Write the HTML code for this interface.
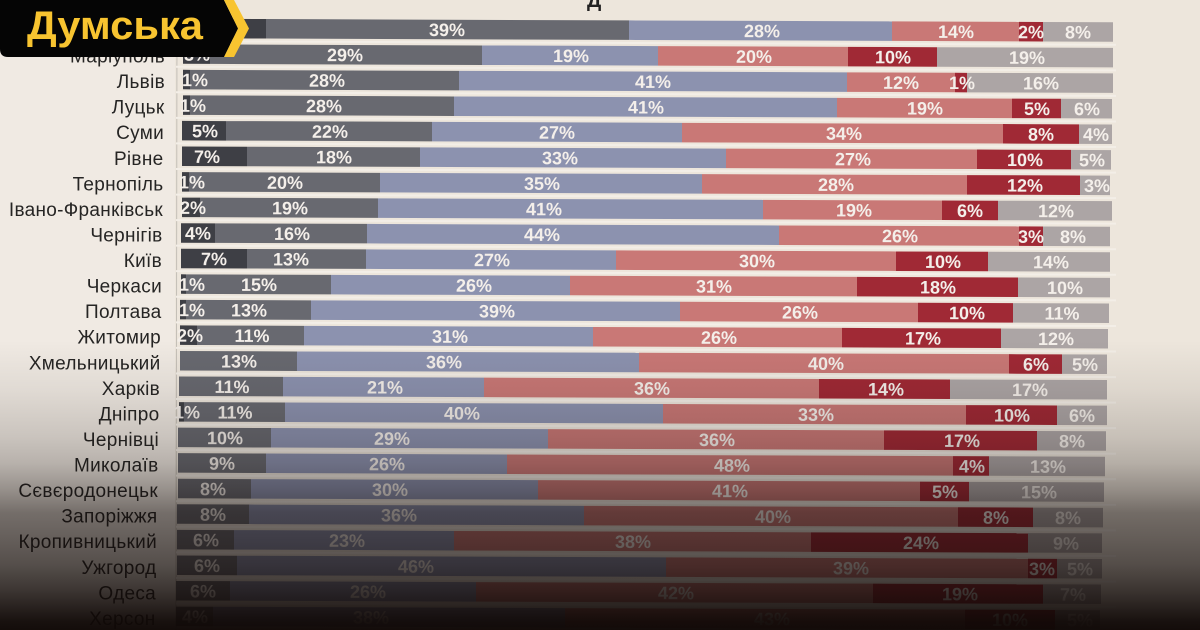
<!DOCTYPE html>
<html><head><meta charset="utf-8"><style>
html,body{margin:0;padding:0;background:#ede6dc;}
svg{display:block;}
.p{font-family:"Liberation Sans",sans-serif;font-weight:bold;font-size:18px;fill:#f4efea;text-anchor:middle;}
.c{font-family:"Liberation Sans","Noto Sans CJK SC",sans-serif;font-size:19px;fill:#262524;text-anchor:end;letter-spacing:0.3px;}
</style></head><body>
<svg width="1200" height="630" viewBox="0 0 1200 630" xmlns="http://www.w3.org/2000/svg">
<defs>
<linearGradient id="sh" x1="0" y1="0" x2="0" y2="1">
<stop offset="0" stop-color="rgb(15,8,6)" stop-opacity="0"/>
<stop offset="0.540" stop-color="rgb(15,8,6)" stop-opacity="0"/>
<stop offset="0.619" stop-color="rgb(15,8,6)" stop-opacity="0.07"/>
<stop offset="0.694" stop-color="rgb(15,8,6)" stop-opacity="0.17"/>
<stop offset="0.735" stop-color="rgb(15,8,6)" stop-opacity="0.25"/>
<stop offset="0.778" stop-color="rgb(15,8,6)" stop-opacity="0.40"/>
<stop offset="0.814" stop-color="rgb(15,8,6)" stop-opacity="0.55"/>
<stop offset="0.857" stop-color="rgb(15,8,6)" stop-opacity="0.62"/>
<stop offset="0.897" stop-color="rgb(15,8,6)" stop-opacity="0.69"/>
<stop offset="0.937" stop-color="rgb(15,8,6)" stop-opacity="0.80"/>
<stop offset="0.968" stop-color="rgb(15,8,6)" stop-opacity="0.90"/>
<stop offset="0.987" stop-color="rgb(15,8,6)" stop-opacity="0.96"/>
<stop offset="1" stop-color="rgb(15,8,6)" stop-opacity="0.98"/>
</linearGradient>
</defs>
<rect x="0" y="0" width="1200" height="630" fill="#ede6dc"/>
<rect x="0" y="0" width="175" height="630" fill="#f0eae3"/>
<text x="587" y="7" font-family="Liberation Sans,sans-serif" font-weight="bold" font-size="20" fill="#222">Д</text>
<line x1="177" y1="14" x2="176" y2="630" stroke="#c4bfb7" stroke-width="1"/>

<g transform="skewY(0.22)">
<g fill="#f3eee7">
<rect x="176" y="39.5" width="940" height="2"/><rect x="176" y="65.1" width="940" height="2"/><rect x="176" y="90.6" width="940" height="2"/><rect x="176" y="116.2" width="940" height="2"/><rect x="176" y="141.7" width="940" height="2"/><rect x="176" y="167.3" width="940" height="2"/><rect x="176" y="192.9" width="940" height="2"/><rect x="176" y="218.4" width="940" height="2"/><rect x="176" y="244" width="940" height="2"/><rect x="176" y="269.5" width="940" height="2"/><rect x="176" y="295.1" width="940" height="2"/><rect x="176" y="320.7" width="940" height="2"/><rect x="176" y="346.2" width="940" height="2"/><rect x="176" y="371.8" width="940" height="2"/><rect x="176" y="397.3" width="940" height="2"/><rect x="176" y="422.9" width="940" height="2"/><rect x="176" y="448.5" width="940" height="2"/><rect x="176" y="474" width="940" height="2"/><rect x="176" y="499.6" width="940" height="2"/><rect x="176" y="525.1" width="940" height="2"/><rect x="176" y="550.7" width="940" height="2"/><rect x="176" y="576.3" width="940" height="2"/><rect x="176" y="601.8" width="940" height="2"/>
</g>
<!-- Row 0 -->
<rect x="182" y="18" width="84" height="19.5" fill="#3e3f45"/><rect x="266" y="18" width="363" height="19.5" fill="#686970"/><rect x="629" y="18" width="263" height="19.5" fill="#8c92af"/><rect x="892" y="18" width="127" height="19.5" fill="#c97876"/><rect x="1019" y="18" width="24" height="19.5" fill="#a02935"/><rect x="1043" y="18" width="70" height="19.5" fill="#aca5a5"/>
<text class="p" x="447" y="34.3">39%</text><text class="p" x="762" y="34.3">28%</text><text class="p" x="956" y="34.3">14%</text><text class="p" x="1031" y="34.3">2%</text><text class="p" x="1078" y="34.3">8%</text>
<!-- Row 1 -->
<rect x="183" y="43.6" width="27" height="19.5" fill="#3e3f45"/><rect x="210" y="43.6" width="272" height="19.5" fill="#686970"/><rect x="482" y="43.6" width="176" height="19.5" fill="#8c92af"/><rect x="658" y="43.6" width="190" height="19.5" fill="#c97876"/><rect x="848" y="43.6" width="89" height="19.5" fill="#a02935"/><rect x="937" y="43.6" width="176" height="19.5" fill="#aca5a5"/>
<text class="p" x="197" y="59.9">3%</text><text class="p" x="345" y="59.9">29%</text><text class="p" x="571" y="59.9">19%</text><text class="p" x="754" y="59.9">20%</text><text class="p" x="893" y="59.9">10%</text><text class="p" x="1027" y="59.9">19%</text>
<!-- Row 2 -->
<rect x="183" y="69.1" width="7" height="19.5" fill="#3e3f45"/><rect x="190" y="69.1" width="269" height="19.5" fill="#686970"/><rect x="459" y="69.1" width="388" height="19.5" fill="#8c92af"/><rect x="847" y="69.1" width="108" height="19.5" fill="#c97876"/><rect x="955" y="69.1" width="12" height="19.5" fill="#a02935"/><rect x="967" y="69.1" width="146" height="19.5" fill="#aca5a5"/>
<text class="p" x="195" y="85.4">1%</text><text class="p" x="327" y="85.4">28%</text><text class="p" x="653" y="85.4">41%</text><text class="p" x="901" y="85.4">12%</text><text class="p" x="962" y="85.4">1%</text><text class="p" x="1041" y="85.4">16%</text>
<!-- Row 3 -->
<rect x="183" y="94.7" width="7" height="19.5" fill="#3e3f45"/><rect x="190" y="94.7" width="264" height="19.5" fill="#686970"/><rect x="454" y="94.7" width="383" height="19.5" fill="#8c92af"/><rect x="837" y="94.7" width="175" height="19.5" fill="#c97876"/><rect x="1012" y="94.7" width="49" height="19.5" fill="#a02935"/><rect x="1061" y="94.7" width="51" height="19.5" fill="#aca5a5"/>
<text class="p" x="193" y="111">1%</text><text class="p" x="324" y="111">28%</text><text class="p" x="646" y="111">41%</text><text class="p" x="925" y="111">19%</text><text class="p" x="1037" y="111">5%</text><text class="p" x="1087" y="111">6%</text>
<!-- Row 4 -->
<rect x="182" y="120.2" width="44" height="19.5" fill="#3e3f45"/><rect x="226" y="120.2" width="206" height="19.5" fill="#686970"/><rect x="432" y="120.2" width="250" height="19.5" fill="#8c92af"/><rect x="682" y="120.2" width="321" height="19.5" fill="#c97876"/><rect x="1003" y="120.2" width="76" height="19.5" fill="#a02935"/><rect x="1079" y="120.2" width="33" height="19.5" fill="#aca5a5"/>
<text class="p" x="205" y="136.5">5%</text><text class="p" x="330" y="136.5">22%</text><text class="p" x="557" y="136.5">27%</text><text class="p" x="844" y="136.5">34%</text><text class="p" x="1041" y="136.5">8%</text><text class="p" x="1096" y="136.5">4%</text>
<!-- Row 5 -->
<rect x="182" y="145.8" width="65" height="19.5" fill="#3e3f45"/><rect x="247" y="145.8" width="173" height="19.5" fill="#686970"/><rect x="420" y="145.8" width="306" height="19.5" fill="#8c92af"/><rect x="726" y="145.8" width="251" height="19.5" fill="#c97876"/><rect x="977" y="145.8" width="94" height="19.5" fill="#a02935"/><rect x="1071" y="145.8" width="40" height="19.5" fill="#aca5a5"/>
<text class="p" x="207" y="162.1">7%</text><text class="p" x="334" y="162.1">18%</text><text class="p" x="560" y="162.1">33%</text><text class="p" x="853" y="162.1">27%</text><text class="p" x="1025" y="162.1">10%</text><text class="p" x="1092" y="162.1">5%</text>
<!-- Row 6 -->
<rect x="182" y="171.4" width="7" height="19.5" fill="#3e3f45"/><rect x="189" y="171.4" width="191" height="19.5" fill="#686970"/><rect x="380" y="171.4" width="322" height="19.5" fill="#8c92af"/><rect x="702" y="171.4" width="265" height="19.5" fill="#c97876"/><rect x="967" y="171.4" width="113" height="19.5" fill="#a02935"/><rect x="1080" y="171.4" width="30" height="19.5" fill="#aca5a5"/>
<text class="p" x="192" y="187.7">1%</text><text class="p" x="285" y="187.7">20%</text><text class="p" x="542" y="187.7">35%</text><text class="p" x="836" y="187.7">28%</text><text class="p" x="1025" y="187.7">12%</text><text class="p" x="1097" y="187.7">3%</text>
<!-- Row 7 -->
<rect x="182" y="196.9" width="18" height="19.5" fill="#3e3f45"/><rect x="200" y="196.9" width="178" height="19.5" fill="#686970"/><rect x="378" y="196.9" width="385" height="19.5" fill="#8c92af"/><rect x="763" y="196.9" width="179" height="19.5" fill="#c97876"/><rect x="942" y="196.9" width="56" height="19.5" fill="#a02935"/><rect x="998" y="196.9" width="114" height="19.5" fill="#aca5a5"/>
<text class="p" x="193" y="213.2">2%</text><text class="p" x="290" y="213.2">19%</text><text class="p" x="544" y="213.2">41%</text><text class="p" x="854" y="213.2">19%</text><text class="p" x="970" y="213.2">6%</text><text class="p" x="1056" y="213.2">12%</text>
<!-- Row 8 -->
<rect x="181" y="222.5" width="34" height="19.5" fill="#3e3f45"/><rect x="215" y="222.5" width="152" height="19.5" fill="#686970"/><rect x="367" y="222.5" width="412" height="19.5" fill="#8c92af"/><rect x="779" y="222.5" width="240" height="19.5" fill="#c97876"/><rect x="1019" y="222.5" width="24" height="19.5" fill="#a02935"/><rect x="1043" y="222.5" width="67" height="19.5" fill="#aca5a5"/>
<text class="p" x="198" y="238.8">4%</text><text class="p" x="292" y="238.8">16%</text><text class="p" x="542" y="238.8">44%</text><text class="p" x="900" y="238.8">26%</text><text class="p" x="1031" y="238.8">3%</text><text class="p" x="1073" y="238.8">8%</text>
<!-- Row 9 -->
<rect x="181" y="248" width="66" height="19.5" fill="#3e3f45"/><rect x="247" y="248" width="119" height="19.5" fill="#686970"/><rect x="366" y="248" width="250" height="19.5" fill="#8c92af"/><rect x="616" y="248" width="280" height="19.5" fill="#c97876"/><rect x="896" y="248" width="92" height="19.5" fill="#a02935"/><rect x="988" y="248" width="122" height="19.5" fill="#aca5a5"/>
<text class="p" x="214" y="264.3">7%</text><text class="p" x="291" y="264.3">13%</text><text class="p" x="492" y="264.3">27%</text><text class="p" x="757" y="264.3">30%</text><text class="p" x="943" y="264.3">10%</text><text class="p" x="1051" y="264.3">14%</text>
<!-- Row 10 -->
<rect x="181" y="273.6" width="5" height="19.5" fill="#3e3f45"/><rect x="186" y="273.6" width="145" height="19.5" fill="#686970"/><rect x="331" y="273.6" width="239" height="19.5" fill="#8c92af"/><rect x="570" y="273.6" width="287" height="19.5" fill="#c97876"/><rect x="857" y="273.6" width="161" height="19.5" fill="#a02935"/><rect x="1018" y="273.6" width="92" height="19.5" fill="#aca5a5"/>
<text class="p" x="192" y="289.9">1%</text><text class="p" x="259" y="289.9">15%</text><text class="p" x="474" y="289.9">26%</text><text class="p" x="714" y="289.9">31%</text><text class="p" x="938" y="289.9">18%</text><text class="p" x="1065" y="289.9">10%</text>
<!-- Row 11 -->
<rect x="180" y="299.2" width="6" height="19.5" fill="#3e3f45"/><rect x="186" y="299.2" width="125" height="19.5" fill="#686970"/><rect x="311" y="299.2" width="369" height="19.5" fill="#8c92af"/><rect x="680" y="299.2" width="238" height="19.5" fill="#c97876"/><rect x="918" y="299.2" width="95" height="19.5" fill="#a02935"/><rect x="1013" y="299.2" width="96" height="19.5" fill="#aca5a5"/>
<text class="p" x="192" y="315.5">1%</text><text class="p" x="249" y="315.5">13%</text><text class="p" x="497" y="315.5">39%</text><text class="p" x="800" y="315.5">26%</text><text class="p" x="967" y="315.5">10%</text><text class="p" x="1062" y="315.5">11%</text>
<!-- Row 12 -->
<rect x="180" y="324.7" width="17" height="19.5" fill="#3e3f45"/><rect x="197" y="324.7" width="107" height="19.5" fill="#686970"/><rect x="304" y="324.7" width="289" height="19.5" fill="#8c92af"/><rect x="593" y="324.7" width="249" height="19.5" fill="#c97876"/><rect x="842" y="324.7" width="159" height="19.5" fill="#a02935"/><rect x="1001" y="324.7" width="107" height="19.5" fill="#aca5a5"/>
<text class="p" x="190" y="341">2%</text><text class="p" x="252" y="341">11%</text><text class="p" x="450" y="341">31%</text><text class="p" x="719" y="341">26%</text><text class="p" x="923" y="341">17%</text><text class="p" x="1056" y="341">12%</text>
<!-- Row 13 -->
<rect x="180" y="350.3" width="117" height="19.5" fill="#686970"/><rect x="297" y="350.3" width="342" height="19.5" fill="#8c92af"/><rect x="639" y="350.3" width="370" height="19.5" fill="#c97876"/><rect x="1009" y="350.3" width="53" height="19.5" fill="#a02935"/><rect x="1062" y="350.3" width="45" height="19.5" fill="#aca5a5"/>
<text class="p" x="239" y="366.6">13%</text><text class="p" x="444" y="366.6">36%</text><text class="p" x="826" y="366.6">40%</text><text class="p" x="1036" y="366.6">6%</text><text class="p" x="1085" y="366.6">5%</text>
<!-- Row 14 -->
<rect x="179" y="375.8" width="104" height="19.5" fill="#686970"/><rect x="283" y="375.8" width="201" height="19.5" fill="#8c92af"/><rect x="484" y="375.8" width="335" height="19.5" fill="#c97876"/><rect x="819" y="375.8" width="131" height="19.5" fill="#a02935"/><rect x="950" y="375.8" width="157" height="19.5" fill="#aca5a5"/>
<text class="p" x="232" y="392.1">11%</text><text class="p" x="385" y="392.1">21%</text><text class="p" x="652" y="392.1">36%</text><text class="p" x="886" y="392.1">14%</text><text class="p" x="1030" y="392.1">17%</text>
<!-- Row 15 -->
<rect x="179" y="401.4" width="5" height="19.5" fill="#3e3f45"/><rect x="184" y="401.4" width="101" height="19.5" fill="#686970"/><rect x="285" y="401.4" width="378" height="19.5" fill="#8c92af"/><rect x="663" y="401.4" width="303" height="19.5" fill="#c97876"/><rect x="966" y="401.4" width="91" height="19.5" fill="#a02935"/><rect x="1057" y="401.4" width="50" height="19.5" fill="#aca5a5"/>
<text class="p" x="187" y="417.7">1%</text><text class="p" x="235" y="417.7">11%</text><text class="p" x="462" y="417.7">40%</text><text class="p" x="816" y="417.7">33%</text><text class="p" x="1012" y="417.7">10%</text><text class="p" x="1082" y="417.7">6%</text>
<!-- Row 16 -->
<rect x="178" y="427" width="93" height="19.5" fill="#686970"/><rect x="271" y="427" width="277" height="19.5" fill="#8c92af"/><rect x="548" y="427" width="336" height="19.5" fill="#c97876"/><rect x="884" y="427" width="153" height="19.5" fill="#a02935"/><rect x="1037" y="427" width="69" height="19.5" fill="#aca5a5"/>
<text class="p" x="225" y="443.3">10%</text><text class="p" x="392" y="443.3">29%</text><text class="p" x="717" y="443.3">36%</text><text class="p" x="962" y="443.3">17%</text><text class="p" x="1072" y="443.3">8%</text>
<!-- Row 17 -->
<rect x="178" y="452.5" width="88" height="19.5" fill="#686970"/><rect x="266" y="452.5" width="241" height="19.5" fill="#8c92af"/><rect x="507" y="452.5" width="446" height="19.5" fill="#c97876"/><rect x="953" y="452.5" width="36" height="19.5" fill="#a02935"/><rect x="989" y="452.5" width="116" height="19.5" fill="#aca5a5"/>
<text class="p" x="222" y="468.8">9%</text><text class="p" x="387" y="468.8">26%</text><text class="p" x="732" y="468.8">48%</text><text class="p" x="972" y="468.8">4%</text><text class="p" x="1048" y="468.8">13%</text>
<!-- Row 18 -->
<rect x="178" y="478.1" width="73" height="19.5" fill="#686970"/><rect x="251" y="478.1" width="287" height="19.5" fill="#8c92af"/><rect x="538" y="478.1" width="382" height="19.5" fill="#c97876"/><rect x="920" y="478.1" width="49" height="19.5" fill="#a02935"/><rect x="969" y="478.1" width="135" height="19.5" fill="#aca5a5"/>
<text class="p" x="213" y="494.4">8%</text><text class="p" x="390" y="494.4">30%</text><text class="p" x="730" y="494.4">41%</text><text class="p" x="945" y="494.4">5%</text><text class="p" x="1039" y="494.4">15%</text>
<!-- Row 19 -->
<rect x="177" y="503.6" width="72" height="19.5" fill="#686970"/><rect x="249" y="503.6" width="335" height="19.5" fill="#8c92af"/><rect x="584" y="503.6" width="374" height="19.5" fill="#c97876"/><rect x="958" y="503.6" width="75" height="19.5" fill="#a02935"/><rect x="1033" y="503.6" width="70" height="19.5" fill="#aca5a5"/>
<text class="p" x="213" y="519.9">8%</text><text class="p" x="399" y="519.9">36%</text><text class="p" x="773" y="519.9">40%</text><text class="p" x="996" y="519.9">8%</text><text class="p" x="1068" y="519.9">8%</text>
<!-- Row 20 -->
<rect x="177" y="529.2" width="57" height="19.5" fill="#686970"/><rect x="234" y="529.2" width="220" height="19.5" fill="#8c92af"/><rect x="454" y="529.2" width="357" height="19.5" fill="#c97876"/><rect x="811" y="529.2" width="217" height="19.5" fill="#a02935"/><rect x="1028" y="529.2" width="74" height="19.5" fill="#aca5a5"/>
<text class="p" x="206" y="545.5">6%</text><text class="p" x="347" y="545.5">23%</text><text class="p" x="633" y="545.5">38%</text><text class="p" x="921" y="545.5">24%</text><text class="p" x="1066" y="545.5">9%</text>
<!-- Row 21 -->
<rect x="177" y="554.8" width="60" height="19.5" fill="#686970"/><rect x="237" y="554.8" width="429" height="19.5" fill="#8c92af"/><rect x="666" y="554.8" width="362" height="19.5" fill="#c97876"/><rect x="1028" y="554.8" width="29" height="19.5" fill="#a02935"/><rect x="1057" y="554.8" width="45" height="19.5" fill="#aca5a5"/>
<text class="p" x="207" y="571.1">6%</text><text class="p" x="416" y="571.1">46%</text><text class="p" x="851" y="571.1">39%</text><text class="p" x="1042" y="571.1">3%</text><text class="p" x="1080" y="571.1">5%</text>
<!-- Row 22 -->
<rect x="176" y="580.3" width="54" height="19.5" fill="#686970"/><rect x="230" y="580.3" width="246" height="19.5" fill="#8c92af"/><rect x="476" y="580.3" width="397" height="19.5" fill="#c97876"/><rect x="873" y="580.3" width="170" height="19.5" fill="#a02935"/><rect x="1043" y="580.3" width="58" height="19.5" fill="#aca5a5"/>
<text class="p" x="203" y="596.6">6%</text><text class="p" x="368" y="596.6">26%</text><text class="p" x="676" y="596.6">42%</text><text class="p" x="960" y="596.6">19%</text><text class="p" x="1073" y="596.6">7%</text>
<!-- Row 23 -->
<rect x="176" y="605.9" width="37" height="19.5" fill="#686970"/><rect x="213" y="605.9" width="352" height="19.5" fill="#8c92af"/><rect x="565" y="605.9" width="400" height="19.5" fill="#c97876"/><rect x="965" y="605.9" width="90" height="19.5" fill="#a02935"/><rect x="1055" y="605.9" width="45" height="19.5" fill="#aca5a5"/>
<text class="p" x="195" y="622.2">4%</text><text class="p" x="371" y="622.2">38%</text><text class="p" x="772" y="622.2">43%</text><text class="p" x="1010" y="622.2">10%</text><text class="p" x="1080" y="622.2">5%</text>
</g>

<text class="c" x="165" y="62.6">Маріуполь</text>
<text class="c" x="165" y="88.1">Львів</text>
<text class="c" x="164.5" y="113.7">Луцьк</text>
<text class="c" x="164" y="139.2">Суми</text>
<text class="c" x="163.5" y="164.8">Рівне</text>
<text class="c" x="163.5" y="190.4">Тернопіль</text>
<text class="c" x="163" y="215.9">Івано-Франківськ</text>
<text class="c" x="162.5" y="241.5">Чернігів</text>
<text class="c" x="162" y="267">Київ</text>
<text class="c" x="162" y="292.6">Черкаси</text>
<text class="c" x="161.5" y="318.2">Полтава</text>
<text class="c" x="161" y="343.7">Житомир</text>
<text class="c" x="160.5" y="369.3">Хмельницький</text>
<text class="c" x="160" y="394.8">Харків</text>
<text class="c" x="159.5" y="420.4">Дніпро</text>
<text class="c" x="159" y="446">Чернівці</text>
<text class="c" x="158.5" y="471.5">Миколаїв</text>
<text class="c" x="158" y="497.1">Сєвєродонецьк</text>
<text class="c" x="157.5" y="522.6">Запоріжжя</text>
<text class="c" x="157" y="548.2">Кропивницький</text>
<text class="c" x="156.5" y="573.8">Ужгород</text>
<text class="c" x="156" y="599.3">Одеса</text>
<text class="c" x="155.5" y="624.9">Херсон</text>

<rect x="0" y="0" width="1200" height="630" fill="url(#sh)"/>

<path d="M0,0 H224 L238,28.5 L224,57 H8 Q0,57 0,49 Z" fill="#050505"/>
<path d="M224,0 H234 L249,28.5 L234,57 H224 L238,28.5 Z" fill="#f8c430"/>
<text x="27" y="39" font-family="Liberation Sans,sans-serif" font-weight="bold" font-size="40" fill="#f8c430" textLength="176" lengthAdjust="spacingAndGlyphs">Думська</text>
</svg>
</body></html>
